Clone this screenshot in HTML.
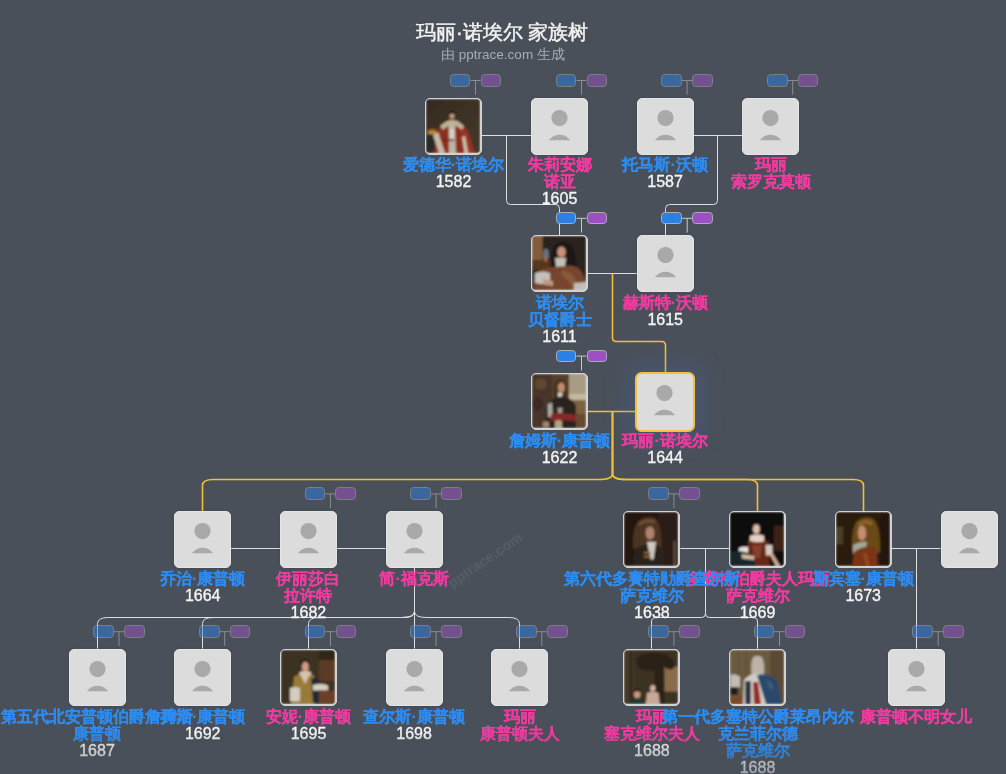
<!DOCTYPE html>
<html><head><meta charset="utf-8"><style>
html,body{margin:0;padding:0;}
body{width:1006px;height:774px;overflow:hidden;background:#4a5059;position:relative;font-family:"Liberation Sans",sans-serif;}
.t{position:absolute;left:0;width:1006px;text-align:center;white-space:nowrap;}
.box{position:absolute;width:57px;height:57px;box-sizing:border-box;border-radius:5px;}
.ph{background:#dcdcdc;border:1px solid #e4e4e4;box-shadow:0 0 3px rgba(0,0,0,0.12);}
.photo{background:#d0d0d0;border:1.5px solid #d2d2d2;overflow:hidden;}
.photo svg{position:absolute;left:0;top:0;width:54px;height:54px;border-radius:3.5px;}
.sel{background:#dcdcdc;border:2.8px solid #f5c03e;box-shadow:0 0 22px 10px rgba(70,110,190,0.22);}
.lab{position:absolute;width:300px;text-align:center;white-space:nowrap;font-size:16px;line-height:16.3px;}
.nm{font-weight:700;-webkit-text-stroke:0.15px currentColor;}
.yr{color:#f4f4f4;-webkit-text-stroke:0.35px #f4f4f4;}
.pill{position:absolute;height:12.8px;width:20.8px;box-sizing:border-box;border-radius:3.8px;border:1px solid #a9adb3;}
</style></head><body><div id="root" style="position:absolute;left:0;top:0;width:1006px;height:774px;will-change:transform;">

<div class="t" style="top:19.8px;left:-1px;font-size:20px;line-height:24px;color:#f2f2f2;-webkit-text-stroke:0.45px #f2f2f2;">玛丽·诺埃尔 家族树</div>
<div class="t" style="top:46px;font-size:13.5px;line-height:18px;color:#a8abb0;">由 pptrace.com 生成</div>
<div style="position:absolute;left:485px;top:559.5px;width:0;height:0;"><div style="position:absolute;left:-60px;top:-10px;width:120px;text-align:center;font-size:14.5px;font-weight:bold;line-height:20px;color:rgba(255,255,255,0.075);transform:rotate(-34deg);white-space:nowrap;">pptrace.com</div></div>
<svg width="1006" height="774" style="position:absolute;left:0;top:0"><path d="M482 135.5H531" fill="none" stroke="#dedfe0" stroke-width="1.0"/><path d="M693.6 135.5H742.2" fill="none" stroke="#dedfe0" stroke-width="1.0"/><path d="M588 273.5H636.7" fill="none" stroke="#dedfe0" stroke-width="1.0"/><path d="M588 411.5H636" fill="none" stroke="#f2bf3b" stroke-width="1.6"/><path d="M231.2 548.5H279.9" fill="none" stroke="#dedfe0" stroke-width="1.0"/><path d="M336.9 548.5H385.6" fill="none" stroke="#dedfe0" stroke-width="1.0"/><path d="M680.4 548.5H729" fill="none" stroke="#dedfe0" stroke-width="1.0"/><path d="M891.7 548.5H940.5" fill="none" stroke="#dedfe0" stroke-width="1.0"/><path d="M506.5 135.5V200.5Q506.5 204.5 510.5 204.5H555.5Q559.5 204.5 559.5 208.5V235.3" fill="none" stroke="#dedfe0" stroke-width="1.0"/><path d="M717.5 135.5V200.5Q717.5 204.5 713.5 204.5H669.5Q665.5 204.5 665.5 208.5V235.3" fill="none" stroke="#dedfe0" stroke-width="1.0"/><path d="M612.5 273.5V337.5Q612.5 341.5 616.5 341.5H661.5Q665.5 341.5 665.5 345.5V372.1" fill="none" stroke="#f2bf3b" stroke-width="1.6"/><path d="M612.5 411.5V474.0Q612.5 479.5 598.5 479.5H213.0Q202.5 479.5 202.5 485.5V510.9" fill="none" stroke="#f2bf3b" stroke-width="1.6"/><path d="M612.5 411.5V474.0Q612.5 479.5 626.5 479.5H747.0Q757.5 479.5 757.5 485.5V510.9" fill="none" stroke="#f2bf3b" stroke-width="1.6"/><path d="M612.5 411.5V474.0Q612.5 479.5 626.5 479.5H853.0Q863.5 479.5 863.5 485.5V510.9" fill="none" stroke="#f2bf3b" stroke-width="1.6"/><path d="M414.5 567.9V611.5Q414.5 617.5 402.5 617.5H108.5Q97.5 617.5 97.5 623.5V648.7" fill="none" stroke="#dedfe0" stroke-width="1.0"/><path d="M414.5 567.9V611.5Q414.5 617.5 402.5 617.5H213.5Q202.5 617.5 202.5 623.5V648.7" fill="none" stroke="#dedfe0" stroke-width="1.0"/><path d="M414.5 567.9V611.5Q414.5 617.5 402.5 617.5H319.5Q308.5 617.5 308.5 623.5V648.7" fill="none" stroke="#dedfe0" stroke-width="1.0"/><path d="M414.5 567.9V648.7" fill="none" stroke="#dedfe0" stroke-width="1.0"/><path d="M414.5 567.9V611.5Q414.5 617.5 426.5 617.5H508.5Q519.5 617.5 519.5 623.5V648.7" fill="none" stroke="#dedfe0" stroke-width="1.0"/><path d="M705.5 548.5V613.5Q705.5 617.5 701.5 617.5H656.0Q651.5 617.5 651.5 622.0V648.7" fill="none" stroke="#dedfe0" stroke-width="1.0"/><path d="M705.5 548.5V613.5Q705.5 617.5 709.5 617.5H753.0Q757.5 617.5 757.5 622.0V648.7" fill="none" stroke="#dedfe0" stroke-width="1.0"/><path d="M916.5 548.5V648.7" fill="none" stroke="#dedfe0" stroke-width="1.0"/></svg>
<div style="position:absolute;left:0;top:0;opacity:0.5;"><svg width="1006" height="774" style="position:absolute;left:0;top:0;overflow:visible"><path d="M470.5 80.5H480.5 M475.5 80.5V94.8" stroke="#c8cacc" stroke-width="1" fill="none"/></svg><div class="pill" style="left:449.7px;top:73.9px;background:#2a80e4;"></div><div class="pill" style="left:480.5px;top:73.9px;background:#9c50c4;"></div></div><div style="position:absolute;left:0;top:0;opacity:0.5;"><svg width="1006" height="774" style="position:absolute;left:0;top:0;overflow:visible"><path d="M576.5 80.5H586.5 M581.5 80.5V94.8" stroke="#c8cacc" stroke-width="1" fill="none"/></svg><div class="pill" style="left:555.7px;top:73.9px;background:#2a80e4;"></div><div class="pill" style="left:586.5px;top:73.9px;background:#9c50c4;"></div></div><div style="position:absolute;left:0;top:0;opacity:0.5;"><svg width="1006" height="774" style="position:absolute;left:0;top:0;overflow:visible"><path d="M682.1 80.5H692.1 M687.1 80.5V94.8" stroke="#c8cacc" stroke-width="1" fill="none"/></svg><div class="pill" style="left:661.3000000000001px;top:73.9px;background:#2a80e4;"></div><div class="pill" style="left:692.1px;top:73.9px;background:#9c50c4;"></div></div><div style="position:absolute;left:0;top:0;opacity:0.5;"><svg width="1006" height="774" style="position:absolute;left:0;top:0;overflow:visible"><path d="M787.7 80.5H797.7 M792.7 80.5V94.8" stroke="#c8cacc" stroke-width="1" fill="none"/></svg><div class="pill" style="left:766.9000000000001px;top:73.9px;background:#2a80e4;"></div><div class="pill" style="left:797.7px;top:73.9px;background:#9c50c4;"></div></div><div style="position:absolute;left:0;top:0;"><svg width="1006" height="774" style="position:absolute;left:0;top:0;overflow:visible"><path d="M576.5 218.3H586.5 M581.5 218.3V232.60000000000002" stroke="#c8cacc" stroke-width="1" fill="none"/></svg><div class="pill" style="left:555.7px;top:211.70000000000002px;background:#2a80e4;"></div><div class="pill" style="left:586.5px;top:211.70000000000002px;background:#9c50c4;"></div></div><div style="position:absolute;left:0;top:0;"><svg width="1006" height="774" style="position:absolute;left:0;top:0;overflow:visible"><path d="M682.2 218.3H692.2 M687.2 218.3V232.60000000000002" stroke="#c8cacc" stroke-width="1" fill="none"/></svg><div class="pill" style="left:661.4000000000001px;top:211.70000000000002px;background:#2a80e4;"></div><div class="pill" style="left:692.2px;top:211.70000000000002px;background:#9c50c4;"></div></div><div style="position:absolute;left:0;top:0;"><svg width="1006" height="774" style="position:absolute;left:0;top:0;overflow:visible"><path d="M576.5 356.1H586.5 M581.5 356.1V370.40000000000003" stroke="#c8cacc" stroke-width="1" fill="none"/></svg><div class="pill" style="left:555.7px;top:349.5px;background:#2a80e4;"></div><div class="pill" style="left:586.5px;top:349.5px;background:#9c50c4;"></div></div><div style="position:absolute;left:0;top:0;opacity:0.5;"><svg width="1006" height="774" style="position:absolute;left:0;top:0;overflow:visible"><path d="M325.4 493.9H335.4 M330.4 493.9V508.2" stroke="#c8cacc" stroke-width="1" fill="none"/></svg><div class="pill" style="left:304.59999999999997px;top:487.29999999999995px;background:#2a80e4;"></div><div class="pill" style="left:335.4px;top:487.29999999999995px;background:#9c50c4;"></div></div><div style="position:absolute;left:0;top:0;opacity:0.5;"><svg width="1006" height="774" style="position:absolute;left:0;top:0;overflow:visible"><path d="M431.1 493.9H441.1 M436.1 493.9V508.2" stroke="#c8cacc" stroke-width="1" fill="none"/></svg><div class="pill" style="left:410.3px;top:487.29999999999995px;background:#2a80e4;"></div><div class="pill" style="left:441.1px;top:487.29999999999995px;background:#9c50c4;"></div></div><div style="position:absolute;left:0;top:0;opacity:0.5;"><svg width="1006" height="774" style="position:absolute;left:0;top:0;overflow:visible"><path d="M668.9 493.9H678.9 M673.9 493.9V508.2" stroke="#c8cacc" stroke-width="1" fill="none"/></svg><div class="pill" style="left:648.1px;top:487.29999999999995px;background:#2a80e4;"></div><div class="pill" style="left:678.9px;top:487.29999999999995px;background:#9c50c4;"></div></div><div style="position:absolute;left:0;top:0;opacity:0.5;"><svg width="1006" height="774" style="position:absolute;left:0;top:0;overflow:visible"><path d="M114.0 631.7H124.0 M119.0 631.7V646.0" stroke="#c8cacc" stroke-width="1" fill="none"/></svg><div class="pill" style="left:93.2px;top:625.1px;background:#2a80e4;"></div><div class="pill" style="left:124.0px;top:625.1px;background:#9c50c4;"></div></div><div style="position:absolute;left:0;top:0;opacity:0.5;"><svg width="1006" height="774" style="position:absolute;left:0;top:0;overflow:visible"><path d="M219.7 631.7H229.7 M224.7 631.7V646.0" stroke="#c8cacc" stroke-width="1" fill="none"/></svg><div class="pill" style="left:198.89999999999998px;top:625.1px;background:#2a80e4;"></div><div class="pill" style="left:229.7px;top:625.1px;background:#9c50c4;"></div></div><div style="position:absolute;left:0;top:0;opacity:0.5;"><svg width="1006" height="774" style="position:absolute;left:0;top:0;overflow:visible"><path d="M325.5 631.7H335.5 M330.5 631.7V646.0" stroke="#c8cacc" stroke-width="1" fill="none"/></svg><div class="pill" style="left:304.7px;top:625.1px;background:#2a80e4;"></div><div class="pill" style="left:335.5px;top:625.1px;background:#9c50c4;"></div></div><div style="position:absolute;left:0;top:0;opacity:0.5;"><svg width="1006" height="774" style="position:absolute;left:0;top:0;overflow:visible"><path d="M431.1 631.7H441.1 M436.1 631.7V646.0" stroke="#c8cacc" stroke-width="1" fill="none"/></svg><div class="pill" style="left:410.3px;top:625.1px;background:#2a80e4;"></div><div class="pill" style="left:441.1px;top:625.1px;background:#9c50c4;"></div></div><div style="position:absolute;left:0;top:0;opacity:0.5;"><svg width="1006" height="774" style="position:absolute;left:0;top:0;overflow:visible"><path d="M536.8 631.7H546.8 M541.8 631.7V646.0" stroke="#c8cacc" stroke-width="1" fill="none"/></svg><div class="pill" style="left:516.0px;top:625.1px;background:#2a80e4;"></div><div class="pill" style="left:546.8px;top:625.1px;background:#9c50c4;"></div></div><div style="position:absolute;left:0;top:0;opacity:0.5;"><svg width="1006" height="774" style="position:absolute;left:0;top:0;overflow:visible"><path d="M668.9 631.7H678.9 M673.9 631.7V646.0" stroke="#c8cacc" stroke-width="1" fill="none"/></svg><div class="pill" style="left:648.1px;top:625.1px;background:#2a80e4;"></div><div class="pill" style="left:678.9px;top:625.1px;background:#9c50c4;"></div></div><div style="position:absolute;left:0;top:0;opacity:0.5;"><svg width="1006" height="774" style="position:absolute;left:0;top:0;overflow:visible"><path d="M774.5 631.7H784.5 M779.5 631.7V646.0" stroke="#c8cacc" stroke-width="1" fill="none"/></svg><div class="pill" style="left:753.7px;top:625.1px;background:#2a80e4;"></div><div class="pill" style="left:784.5px;top:625.1px;background:#9c50c4;"></div></div><div style="position:absolute;left:0;top:0;opacity:0.5;"><svg width="1006" height="774" style="position:absolute;left:0;top:0;overflow:visible"><path d="M933.2 631.7H943.2 M938.2 631.7V646.0" stroke="#c8cacc" stroke-width="1" fill="none"/></svg><div class="pill" style="left:912.4000000000001px;top:625.1px;background:#2a80e4;"></div><div class="pill" style="left:943.2px;top:625.1px;background:#9c50c4;"></div></div>
<div class="box photo" style="left:425.0px;top:97.5px;"><svg viewBox="0 0 54 54" preserveAspectRatio="none"><defs><filter id="fA" x="-5%" y="-5%" width="110%" height="110%"><feGaussianBlur stdDeviation="0.8"/></filter></defs><g filter="url(#fA)"><defs><linearGradient id="gA" x1="0" y1="0" x2="1" y2="1"><stop offset="0" stop-color="#352a20"/><stop offset="1" stop-color="#45382a"/></linearGradient></defs>
<rect width="54" height="54" fill="url(#gA)"/>
<rect x="0" y="33" width="11" height="21" fill="#2b2927"/>
<path d="M2 34 L3 30 L5 31.5 L6.5 29.5 L8 31.5 L10 30 L10 34 Z" fill="#b5742c"/>
<ellipse cx="6" cy="34" rx="4.5" ry="1.4" fill="#c58a3a"/>
<path d="M8 54 L11 31 Q16 26 24 24 L30 24 Q38 26 42 31 L49 54 Z" fill="#8c2e22"/>
<path d="M34 30 Q40 30 42 36 L47 54 L42 54 Z" fill="#9a3426"/>
<path d="M14 27 Q22 20 26 21 Q31 20 38 27 L36 31 Q30 26 26 26 Q22 26 17 31 Z" fill="#bfb295"/>
<path d="M7 36 L12 33 L19 54 L13 54 Z" fill="#c6bca4"/>
<path d="M22.5 25 L29 25 L30 54 L23 54 Z" fill="#bdb6a6"/>
<path d="M24 30 L28 30 L28 40 L24 40 Z" fill="#d9d3c6"/>
<path d="M36 38 L39 37 L42 54 L38.5 54 Z" fill="#cfc5ad"/>
<rect x="16" y="40" width="12" height="2" fill="#7a2418"/>
<ellipse cx="26" cy="17" rx="2.6" ry="3.3" fill="#c29478"/>
<path d="M23 16.5 Q23 12 26 12 Q29 12 29.2 16.5 L29.5 19 L28.4 15 Q26 14 23.8 15 L22.8 19 Z" fill="#17110d"/>
<path d="M24.2 18.5 Q26 21.5 27.8 18.5 L27.6 20.3 Q26 21.8 24.4 20.3 Z" fill="#3a2418"/></g></svg></div>
<div class="box ph" style="left:531.0px;top:97.5px;"><div style="position:absolute;left:-1px;top:-1px"><svg width="57" height="57" viewBox="0 0 57 57" style="position:absolute;left:0;top:0">
<circle cx="28.5" cy="20.1" r="8.1" fill="#a9a9a9"/>
<path d="M17.9 42.2 A13.1 13.1 0 0 1 39.1 42.2 Z" fill="#a9a9a9"/></svg></div></div>
<div class="box ph" style="left:636.6px;top:97.5px;"><div style="position:absolute;left:-1px;top:-1px"><svg width="57" height="57" viewBox="0 0 57 57" style="position:absolute;left:0;top:0">
<circle cx="28.5" cy="20.1" r="8.1" fill="#a9a9a9"/>
<path d="M17.9 42.2 A13.1 13.1 0 0 1 39.1 42.2 Z" fill="#a9a9a9"/></svg></div></div>
<div class="box ph" style="left:742.2px;top:97.5px;"><div style="position:absolute;left:-1px;top:-1px"><svg width="57" height="57" viewBox="0 0 57 57" style="position:absolute;left:0;top:0">
<circle cx="28.5" cy="20.1" r="8.1" fill="#a9a9a9"/>
<path d="M17.9 42.2 A13.1 13.1 0 0 1 39.1 42.2 Z" fill="#a9a9a9"/></svg></div></div>
<div class="box photo" style="left:531.0px;top:235.3px;"><svg viewBox="0 0 54 54" preserveAspectRatio="none"><defs><filter id="fE" x="-5%" y="-5%" width="110%" height="110%"><feGaussianBlur stdDeviation="0.8"/></filter></defs><g filter="url(#fE)"><rect width="54" height="54" fill="#29221d"/>
<rect x="0" y="0" width="10.6" height="25" fill="#8a6242"/>
<rect x="2.4" y="0" width="0.8" height="25" fill="#6a4a32"/><rect x="5.5" y="0" width="0.8" height="25" fill="#6a4a32"/><rect x="8.5" y="0" width="0.8" height="25" fill="#6a4a32"/>
<rect x="0" y="24" width="18" height="10" fill="#55371f"/>
<path d="M11 22 L11.5 14 Q14 11.5 16.5 14 L17 22 Z" fill="#6a737d"/>
<rect x="12" y="22" width="3.5" height="3.5" fill="#b0603a"/>
<path d="M20 34 Q18 20 22 10 Q30 3 38 8 Q45 16 44 34 Q38 37 30 36 Q24 37 20 34 Z" fill="#1f1813"/>
<ellipse cx="29.5" cy="16" rx="4.3" ry="5.6" fill="#c99078"/>
<path d="M23 22 L34 22 L33 31 L24 31 Z" fill="#c5c1b5"/>
<path d="M1 54 L3 38 Q12 31 22 31 L34 30 Q44 28 50 36 L54 46 L54 54 Z" fill="#74452e"/>
<path d="M30 34 Q38 34 44 44 L46 54 L40 54 Q38 44 30 40 Z" fill="#8a583a"/>
<path d="M3 37 Q10 34 18 37 L18 47 Q10 49 3 47 Z" fill="#c2c1ba"/>
<path d="M11 43 L21 45 L21 50 L12 49 Z" fill="#c29882"/>
<path d="M42 47 L54 46 L54 54 L42 54 Z" fill="#c0beb6"/></g></svg></div>
<div class="box ph" style="left:636.7px;top:235.3px;"><div style="position:absolute;left:-1px;top:-1px"><svg width="57" height="57" viewBox="0 0 57 57" style="position:absolute;left:0;top:0">
<circle cx="28.5" cy="20.1" r="8.1" fill="#a9a9a9"/>
<path d="M17.9 42.2 A13.1 13.1 0 0 1 39.1 42.2 Z" fill="#a9a9a9"/></svg></div></div>
<div class="box photo" style="left:531.0px;top:373.1px;"><svg viewBox="0 0 54 54" preserveAspectRatio="none"><defs><filter id="fG" x="-5%" y="-5%" width="110%" height="110%"><feGaussianBlur stdDeviation="0.8"/></filter></defs><g filter="url(#fG)"><rect width="54" height="54" fill="#56412c"/>
<rect x="0" y="0" width="20" height="54" fill="#47352a"/>
<ellipse cx="9" cy="10" rx="6" ry="6" fill="#5e4630"/>
<ellipse cx="6" cy="30" rx="5" ry="7" fill="#3c2c20"/>
<rect x="37" y="0" width="17" height="22" fill="#a89c84"/>
<rect x="37" y="20" width="17" height="6" fill="#c4b89e"/>
<rect x="38" y="26" width="16" height="14" fill="#7a6244"/>
<rect x="38" y="40" width="16" height="14" fill="#664830"/>
<path d="M22 24 Q20 10 26 5.5 Q32 4 35 10 Q36 18 35 24 Z" fill="#4a301e"/>
<ellipse cx="29.3" cy="13.6" rx="3.5" ry="5" fill="#c08c6c"/>
<rect x="26" y="18.6" width="4.2" height="4.4" fill="#d8d4cc"/>
<path d="M13 54 L15 30 Q22 22 30 22.5 Q40 23 44 32 L44 54 Z" fill="#29231f"/>
<path d="M15.5 30 L20 28.5 L21 43.5 L16 43 Z" fill="#aca89f"/>
<path d="M25.4 33.8 L30.8 33.8 L30 39.2 L26 39.2 Z" fill="#9c988e"/>
<path d="M19 40 Q31 38 44 41 L44 47.5 Q31 45 19 47.5 Z" fill="#8a2828"/>
<path d="M23 47 Q26.5 45 30 47 L30 54 L23 54 Z" fill="#b3a384"/>
<rect x="11" y="47.5" width="6" height="5.5" fill="#a08870"/></g></svg></div>
<div class="box sel" style="left:635.3000000000001px;top:372.1px;width:59.6px;height:59.6px;border-radius:6.5px"><div style="position:absolute;left:-1.5px;top:-1.3px"><svg width="57" height="57" viewBox="0 0 57 57" style="position:absolute;left:0;top:0">
<circle cx="28.5" cy="20.1" r="8.1" fill="#a9a9a9"/>
<path d="M17.9 42.2 A13.1 13.1 0 0 1 39.1 42.2 Z" fill="#a9a9a9"/></svg></div></div>
<div class="box ph" style="left:174.2px;top:510.9px;"><div style="position:absolute;left:-1px;top:-1px"><svg width="57" height="57" viewBox="0 0 57 57" style="position:absolute;left:0;top:0">
<circle cx="28.5" cy="20.1" r="8.1" fill="#a9a9a9"/>
<path d="M17.9 42.2 A13.1 13.1 0 0 1 39.1 42.2 Z" fill="#a9a9a9"/></svg></div></div>
<div class="box ph" style="left:279.9px;top:510.9px;"><div style="position:absolute;left:-1px;top:-1px"><svg width="57" height="57" viewBox="0 0 57 57" style="position:absolute;left:0;top:0">
<circle cx="28.5" cy="20.1" r="8.1" fill="#a9a9a9"/>
<path d="M17.9 42.2 A13.1 13.1 0 0 1 39.1 42.2 Z" fill="#a9a9a9"/></svg></div></div>
<div class="box ph" style="left:385.6px;top:510.9px;"><div style="position:absolute;left:-1px;top:-1px"><svg width="57" height="57" viewBox="0 0 57 57" style="position:absolute;left:0;top:0">
<circle cx="28.5" cy="20.1" r="8.1" fill="#a9a9a9"/>
<path d="M17.9 42.2 A13.1 13.1 0 0 1 39.1 42.2 Z" fill="#a9a9a9"/></svg></div></div>
<div class="box photo" style="left:623.4px;top:510.9px;"><svg viewBox="0 0 54 54" preserveAspectRatio="none"><defs><filter id="fL" x="-5%" y="-5%" width="110%" height="110%"><feGaussianBlur stdDeviation="0.8"/></filter></defs><g filter="url(#fL)"><rect width="54" height="54" fill="#20140f"/>
<rect x="34" y="0" width="20" height="54" fill="#2a1a12"/>
<path d="M9 36 Q8 16 15 8 Q23 3 31 6 Q38 12 37.5 36 Q30 39 23 37 Q15 39 9 36 Z" fill="#4c3424"/>
<path d="M14 12 Q22 4 32 9 L30 12 Q22 8 16 14 Z" fill="#6a4c34"/>
<ellipse cx="26" cy="21" rx="4.4" ry="6.6" fill="#b08270"/>
<path d="M8.6 54 L10 38 Q18 32 26 32 Q36 32 40.4 40 L42 54 Z" fill="#2a201a"/>
<path d="M23 30 L32 30 L29.5 47.6 L26.5 47.6 Z" fill="#cfcbc3"/>
<rect x="20" y="40" width="7" height="1.6" fill="#967640"/>
<rect x="20" y="44" width="7" height="1.6" fill="#967640"/>
<rect x="49.7" y="29" width="1.6" height="25" fill="#6f6052"/></g></svg></div>
<div class="box photo" style="left:729.0px;top:510.9px;"><svg viewBox="0 0 54 54" preserveAspectRatio="none"><defs><filter id="fM" x="-5%" y="-5%" width="110%" height="110%"><feGaussianBlur stdDeviation="0.8"/></filter></defs><g filter="url(#fM)"><rect width="54" height="54" fill="#0c0908"/>
<rect x="44" y="14" width="10" height="25" fill="#3c2018"/>
<ellipse cx="26.2" cy="15" rx="4" ry="4.2" fill="#2a1c16"/>
<ellipse cx="26.4" cy="17.2" rx="3.3" ry="4.6" fill="#dfc0ac"/>
<path d="M20 24 Q27 20.5 34 24 L34 31 Q27 33 20 31 Z" fill="#e4d0c2"/>
<path d="M17 54 L18 28 Q27 32.5 38.6 28 L40 54 Z" fill="#682818"/>
<path d="M22 33 L32 33 L30 46 L24 46 Z" fill="#84402a"/>
<path d="M9 36 Q14 34 18 35 L18 42 Q13 42.5 9 41 Z" fill="#e6e2da"/>
<path d="M35.5 33 L42.5 33 L42.5 43.5 L36 43.5 Z" fill="#d6cabe"/>
<path d="M0 40 Q10 37 23 43 L26 54 L0 54 Z" fill="#162829"/>
<path d="M11.5 42 L24 44 L24 48 L12 46.5 Z" fill="#d6b69e"/>
<path d="M39.4 42 L43 42 L50.2 54 L46 54 Z" fill="#d2ae98"/></g></svg></div>
<div class="box photo" style="left:834.7px;top:510.9px;"><svg viewBox="0 0 54 54" preserveAspectRatio="none"><defs><filter id="fN" x="-5%" y="-5%" width="110%" height="110%"><feGaussianBlur stdDeviation="0.8"/></filter></defs><g filter="url(#fN)"><rect width="54" height="54" fill="#2c1e0e"/>
<rect x="0" y="15" width="7" height="17" fill="#4a4028"/>
<rect x="44" y="0" width="10" height="54" fill="#24180c"/>
<path d="M17 43 Q14 22 20 10 Q28 3 37 7 Q45 14 44 40 Q36 46 30 44 Q22 46 17 43 Z" fill="#6a4818"/>
<path d="M21 12 Q29 5 37 10 L35 14 Q28 9 23 15 Z" fill="#8a6428"/>
<ellipse cx="26" cy="21" rx="4.2" ry="7.5" fill="#c68c70"/>
<path d="M17 33 Q24 29 31 30 L29 41.4 L17 41.4 Z" fill="#a0a898"/>
<path d="M16.4 55 L18 40 Q28 32 40 36 L42 55 Z" fill="#7a3418"/>
<path d="M30 40 L34 55 L31 55 L27 42 Z" fill="#9a4a24"/></g></svg></div>
<div class="box ph" style="left:940.5px;top:510.9px;"><div style="position:absolute;left:-1px;top:-1px"><svg width="57" height="57" viewBox="0 0 57 57" style="position:absolute;left:0;top:0">
<circle cx="28.5" cy="20.1" r="8.1" fill="#a9a9a9"/>
<path d="M17.9 42.2 A13.1 13.1 0 0 1 39.1 42.2 Z" fill="#a9a9a9"/></svg></div></div>
<div class="box ph" style="left:68.5px;top:648.7px;"><div style="position:absolute;left:-1px;top:-1px"><svg width="57" height="57" viewBox="0 0 57 57" style="position:absolute;left:0;top:0">
<circle cx="28.5" cy="20.1" r="8.1" fill="#a9a9a9"/>
<path d="M17.9 42.2 A13.1 13.1 0 0 1 39.1 42.2 Z" fill="#a9a9a9"/></svg></div></div>
<div class="box ph" style="left:174.2px;top:648.7px;"><div style="position:absolute;left:-1px;top:-1px"><svg width="57" height="57" viewBox="0 0 57 57" style="position:absolute;left:0;top:0">
<circle cx="28.5" cy="20.1" r="8.1" fill="#a9a9a9"/>
<path d="M17.9 42.2 A13.1 13.1 0 0 1 39.1 42.2 Z" fill="#a9a9a9"/></svg></div></div>
<div class="box photo" style="left:280.0px;top:648.7px;"><svg viewBox="0 0 54 54" preserveAspectRatio="none"><defs><filter id="fR" x="-5%" y="-5%" width="110%" height="110%"><feGaussianBlur stdDeviation="0.8"/></filter></defs><g filter="url(#fR)"><rect width="54" height="54" fill="#3a3020"/>
<rect x="38" y="0" width="16" height="12" fill="#2e2618"/>
<rect x="37.8" y="10" width="16" height="21" fill="#5a3a28"/>
<ellipse cx="23.8" cy="13" rx="4.8" ry="4" fill="#2a1c14"/>
<ellipse cx="24.3" cy="16.8" rx="3.5" ry="5" fill="#d09a80"/>
<path d="M18.4 22 Q24 20 30 22 L30 34 Q24 35 18.4 34 Z" fill="#d8c4b0"/>
<path d="M10 54 L13 27 Q18 23 20 26 L24 34 L28 26 Q31 23 33 26 L34 54 Z" fill="#9a7a38"/>
<path d="M9 38 Q14 36 19 38 L19 51 Q14 52 9 51 Z" fill="#d4ccbe"/>
<path d="M30 28 Q38 28 41 34 L41 52.8 L32 52.8 Z" fill="#1c2c36"/>
<path d="M31.6 35 Q40 33 47 35.5 L47 40.4 L32 40.4 Z" fill="#d8cfc4"/>
<rect x="37.8" y="40.4" width="16" height="14" fill="#6a4028"/></g></svg></div>
<div class="box ph" style="left:385.6px;top:648.7px;"><div style="position:absolute;left:-1px;top:-1px"><svg width="57" height="57" viewBox="0 0 57 57" style="position:absolute;left:0;top:0">
<circle cx="28.5" cy="20.1" r="8.1" fill="#a9a9a9"/>
<path d="M17.9 42.2 A13.1 13.1 0 0 1 39.1 42.2 Z" fill="#a9a9a9"/></svg></div></div>
<div class="box ph" style="left:491.3px;top:648.7px;"><div style="position:absolute;left:-1px;top:-1px"><svg width="57" height="57" viewBox="0 0 57 57" style="position:absolute;left:0;top:0">
<circle cx="28.5" cy="20.1" r="8.1" fill="#a9a9a9"/>
<path d="M17.9 42.2 A13.1 13.1 0 0 1 39.1 42.2 Z" fill="#a9a9a9"/></svg></div></div>
<div class="box photo" style="left:623.4px;top:648.7px;"><svg viewBox="0 0 54 54" preserveAspectRatio="none"><defs><filter id="fU" x="-5%" y="-5%" width="110%" height="110%"><feGaussianBlur stdDeviation="0.8"/></filter></defs><g filter="url(#fU)"><rect width="54" height="54" fill="#3a3024"/>
<rect x="0" y="0" width="10" height="54" fill="#443828"/>
<rect x="6.3" y="0" width="1.6" height="54" fill="#2a2218"/>
<rect x="40.4" y="16.6" width="13.6" height="25" fill="#8a6c4c"/>
<path d="M12 8 Q24 0 40 4 Q52 8 50 18 Q44 22 40 16 L40.4 54 L30.3 54 L31 20 Q22 22 14 18 Z" fill="#2a2418"/>
<ellipse cx="13.2" cy="44" rx="3.2" ry="4.2" fill="#c89a80"/>
<path d="M9.5 43 Q10 39 13.2 39 Q16.5 39 17 43 L16 42 Q13 40.5 10.5 42 Z" fill="#241810"/>
<path d="M7 54 L8 49 Q13 47 18 49 L19 54 Z" fill="#1c3a34"/>
<ellipse cx="28.8" cy="38.2" rx="2.6" ry="3.2" fill="#d4b4a0"/>
<path d="M21.8 54 L23 43 Q28.8 40 34.5 43 L35.8 54 Z" fill="#c8a898"/></g></svg></div>
<div class="box photo" style="left:729.0px;top:648.7px;"><svg viewBox="0 0 54 54" preserveAspectRatio="none"><defs><filter id="fV" x="-5%" y="-5%" width="110%" height="110%"><feGaussianBlur stdDeviation="0.8"/></filter></defs><g filter="url(#fV)"><rect width="54" height="54" fill="#6a5a40"/>
<rect x="8" y="0" width="1" height="54" fill="#5e4e36"/><rect x="16" y="0" width="1" height="30" fill="#5e4e36"/>
<rect x="40" y="0" width="14" height="54" fill="#5a4a34"/>
<path d="M0.6 24.9 Q6 23 10 27 L10 37.3 L0.6 37.3 Z" fill="#c0bcb4"/>
<rect x="0.6" y="37.3" width="7" height="7.7" fill="#1c1c1e"/>
<rect x="0" y="46.6" width="13" height="8" fill="#7a4a2a"/>
<path d="M21.5 25 Q20 10 24 6.5 Q27 5 31 6.5 Q35 10 34 25 Z" fill="#b8b2a8"/>
<ellipse cx="27" cy="14.8" rx="3" ry="5.2" fill="#c8b0a0"/>
<path d="M13 54 L14 30 Q20 23.3 28 23.3 Q36 23.3 41 30 L41 54 Z" fill="#d0ccc4"/>
<path d="M27 25 Q40 22 48 32 L51.8 54 L36 54 L31 38 Z" fill="#2c4a6a"/>
<path d="M36 30 Q42 30 44 38 L40 40 Z" fill="#3c5a7a"/>
<path d="M23 32 L28 32 L31 54 L24 54 Z" fill="#9a2a28"/>
<rect x="15.3" y="31" width="5.5" height="23" fill="#2a3040"/></g></svg></div>
<div class="box ph" style="left:887.7px;top:648.7px;"><div style="position:absolute;left:-1px;top:-1px"><svg width="57" height="57" viewBox="0 0 57 57" style="position:absolute;left:0;top:0">
<circle cx="28.5" cy="20.1" r="8.1" fill="#a9a9a9"/>
<path d="M17.9 42.2 A13.1 13.1 0 0 1 39.1 42.2 Z" fill="#a9a9a9"/></svg></div></div>
<div class="lab nm" style="left:303.5px;top:157.30px;color:#2d8cf0;z-index:3">爱德华·诺埃尔</div>
<div class="lab yr" style="left:303.5px;top:174.40px;">1582</div>
<div class="lab nm" style="left:409.5px;top:157.30px;color:#ef3ca0;z-index:2">朱莉安娜</div>
<div class="lab nm" style="left:409.5px;top:174.30px;color:#ef3ca0;z-index:2">诺亚</div>
<div class="lab yr" style="left:409.5px;top:191.40px;">1605</div>
<div class="lab nm" style="left:515.1px;top:157.30px;color:#2d8cf0;z-index:3">托马斯·沃顿</div>
<div class="lab yr" style="left:515.1px;top:174.40px;">1587</div>
<div class="lab nm" style="left:620.7px;top:157.30px;color:#ef3ca0;z-index:2">玛丽</div>
<div class="lab nm" style="left:620.7px;top:174.30px;color:#ef3ca0;z-index:2">索罗克莫顿</div>
<div class="lab nm" style="left:409.5px;top:295.10px;color:#2d8cf0;z-index:3">诺埃尔</div>
<div class="lab nm" style="left:409.5px;top:312.10px;color:#2d8cf0;z-index:3">贝督爵士</div>
<div class="lab yr" style="left:409.5px;top:329.20px;">1611</div>
<div class="lab nm" style="left:515.2px;top:295.10px;color:#ef3ca0;z-index:2">赫斯特·沃顿</div>
<div class="lab yr" style="left:515.2px;top:312.20px;">1615</div>
<div class="lab nm" style="left:409.5px;top:432.90px;color:#2d8cf0;z-index:3">詹姆斯·康普顿</div>
<div class="lab yr" style="left:409.5px;top:450.00px;">1622</div>
<div class="lab nm" style="left:515.1px;top:432.90px;color:#ef3ca0;z-index:2">玛丽·诺埃尔</div>
<div class="lab yr" style="left:515.1px;top:450.00px;">1644</div>
<div class="lab nm" style="left:52.69999999999999px;top:570.70px;color:#2d8cf0;z-index:3">乔治·康普顿</div>
<div class="lab yr" style="left:52.69999999999999px;top:587.80px;">1664</div>
<div class="lab nm" style="left:158.39999999999998px;top:570.70px;color:#ef3ca0;z-index:2">伊丽莎白</div>
<div class="lab nm" style="left:158.39999999999998px;top:587.70px;color:#ef3ca0;z-index:2">拉许特</div>
<div class="lab yr" style="left:158.39999999999998px;top:604.80px;">1682</div>
<div class="lab nm" style="left:264.1px;top:570.70px;color:#ef3ca0;z-index:2">简·福克斯</div>
<div class="lab nm" style="left:501.9px;top:570.70px;color:#2d8cf0;z-index:3">第六代多賽特勛爵查尔斯</div>
<div class="lab nm" style="left:501.9px;top:587.70px;color:#2d8cf0;z-index:3">萨克维尔</div>
<div class="lab yr" style="left:501.9px;top:604.80px;">1638</div>
<div class="lab nm" style="left:607.5px;top:570.70px;color:#ef3ca0;z-index:2">多赛特伯爵夫人玛丽</div>
<div class="lab nm" style="left:607.5px;top:587.70px;color:#ef3ca0;z-index:2">萨克维尔</div>
<div class="lab yr" style="left:607.5px;top:604.80px;">1669</div>
<div class="lab nm" style="left:713.2px;top:570.70px;color:#2d8cf0;z-index:3">斯宾塞·康普顿</div>
<div class="lab yr" style="left:713.2px;top:587.80px;">1673</div>
<div class="lab nm" style="left:-53.0px;top:708.50px;color:#2d8cf0;z-index:3">第五代北安普顿伯爵詹姆斯</div>
<div class="lab nm" style="left:-53.0px;top:725.50px;color:#2d8cf0;z-index:3">康普顿</div>
<div class="lab yr" style="left:-53.0px;top:742.60px;">1687</div>
<div class="lab nm" style="left:52.69999999999999px;top:708.50px;color:#2d8cf0;z-index:3">乔治·康普顿</div>
<div class="lab yr" style="left:52.69999999999999px;top:725.60px;">1692</div>
<div class="lab nm" style="left:158.5px;top:708.50px;color:#ef3ca0;z-index:2">安妮·康普顿</div>
<div class="lab yr" style="left:158.5px;top:725.60px;">1695</div>
<div class="lab nm" style="left:264.1px;top:708.50px;color:#2d8cf0;z-index:3">查尔斯·康普顿</div>
<div class="lab yr" style="left:264.1px;top:725.60px;">1698</div>
<div class="lab nm" style="left:369.79999999999995px;top:708.50px;color:#ef3ca0;z-index:2">玛丽</div>
<div class="lab nm" style="left:369.79999999999995px;top:725.50px;color:#ef3ca0;z-index:2">康普顿夫人</div>
<div class="lab nm" style="left:501.9px;top:708.50px;color:#ef3ca0;z-index:2">玛丽</div>
<div class="lab nm" style="left:501.9px;top:725.50px;color:#ef3ca0;z-index:2">塞克维尔夫人</div>
<div class="lab yr" style="left:501.9px;top:742.60px;">1688</div>
<div class="lab nm" style="left:607.5px;top:708.50px;color:#2d8cf0;z-index:3">第一代多塞特公爵莱昂内尔</div>
<div class="lab nm" style="left:607.5px;top:725.50px;color:#2d8cf0;z-index:3">克兰菲尔德</div>
<div class="lab nm" style="left:607.5px;top:742.50px;color:#2d8cf0;z-index:3">萨克维尔</div>
<div class="lab yr" style="left:607.5px;top:759.60px;">1688</div>
<div class="lab nm" style="left:766.2px;top:708.50px;color:#ef3ca0;z-index:2">康普顿不明女儿</div>
<div style="position:absolute;left:0;top:732px;width:1006px;height:42px;z-index:10;background:linear-gradient(to bottom, rgba(74,80,89,0) 0%, rgba(74,80,89,0.5) 100%);"></div>
</div></body></html>
